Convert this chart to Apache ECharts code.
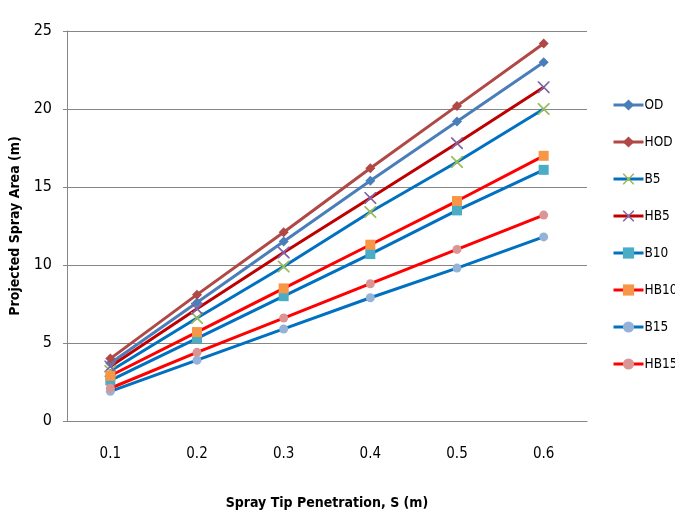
<!DOCTYPE html>
<html><head><meta charset="utf-8">
<script src="https://cdn.jsdelivr.net/npm/echarts@6/dist/echarts.min.js"></script>
<style>html,body{margin:0;padding:0;background:#fff}#c{width:675px;height:515px}</style>
</head><body><div id="c"></div>
<script>
const categories = ['0.1','0.2','0.3','0.4','0.5','0.6'];
const yTicks = [0,5,10,15,20,25];
const OD   = [3.7, 7.6, 11.5, 15.4, 19.2, 23.0];
const HOD  = [4.0, 8.1, 12.1, 16.2, 20.2, 24.2];
const B5   = [3.2, 6.6, 9.9, 13.4, 16.6, 20.0];
const HB5  = [3.5, 7.2, 10.8, 14.3, 17.8, 21.4];
const B10  = [2.6, 5.3, 8.0, 10.7, 13.5, 16.1];
const HB10 = [2.9, 5.7, 8.5, 11.3, 14.1, 17.0];
const B15  = [1.9, 3.9, 5.9, 7.9, 9.8, 11.8];
const HB15 = [2.1, 4.4, 6.6, 8.8, 11.0, 13.2];

const font = '"DejaVu Sans Condensed","Liberation Sans Narrow","Open Sans",sans-serif';
const X = 'path://M0,0L1,0L5,4L9,0L10,0L10,1L6,5L10,9L10,10L9,10L5,6L1,10L0,10L0,9L4,5L0,1Z';
function s(name, data, lineColor, markColor, symbol, size) {
  return {
    name, type: 'line', data, symbol, symbolSize: size,
    lineStyle: {color: lineColor, width: 3},
    itemStyle: {color: markColor, borderWidth: 0},
    color: lineColor,
    emphasis: {disabled: true}
  };
}
const series = [
  s('OD', OD, '#4a7ebb', '#4a7ebb', 'diamond', 10),
  s('HOD', HOD, '#b04845', '#b04845', 'diamond', 10),
  s('B5', B5, '#0070c0', '#9bbb59', X, 12),
  s('HB5', HB5, '#c00000', '#8064a2', X, 12),
  s('B10', B10, '#0070c0', '#4bacc6', 'rect', 10),
  s('HB10', HB10, '#ff0000', '#f79646', 'rect', 10),
  s('B15', B15, '#0070c0', '#95b3d7', 'circle', 9),
  s('HB15', HB15, '#ff0000', '#d99694', 'circle', 9)
];
const chart = echarts.init(document.getElementById('c'), null, {renderer: 'canvas'});
chart.setOption({
  animation: false,
  backgroundColor: '#fff',
  grid: {left: 67, right: 88, top: 31, bottom: 84},
  legend: {
    orient: 'vertical', left: 607, top: 93, itemGap: 23, itemWidth: 30, itemHeight: 14,
    lineStyle: {width: 3},
    textStyle: {fontFamily: font, fontSize: 13.5, color: '#000', padding: [0,0,0,-4]},
    data: series.map(x => x.name)
  },
  xAxis: {
    type: 'category', data: categories, boundaryGap: true,
    name: 'Spray Tip Penetration, S (m)', nameLocation: 'middle', nameGap: 75,
    nameTextStyle: {fontFamily: font, fontSize: 14, fontWeight: 'bold', color: '#000'},
    axisLine: {lineStyle: {color: '#868686', width: 1}},
    axisTick: {show: false},
    axisLabel: {fontFamily: font, fontSize: 15, color: '#000', margin: 26}
  },
  yAxis: {
    type: 'value', min: 0, max: 25, interval: 5,
    name: 'Projected Spray Area (m)', nameLocation: 'middle', nameGap: 40, nameRotate: 90,
    nameTextStyle: {fontFamily: font, fontSize: 14, fontWeight: 'bold', color: '#000'},
    axisLine: {show: true, lineStyle: {color: '#868686', width: 1}},
    axisTick: {show: true, length: 4, lineStyle: {color: '#868686'}},
    splitLine: {lineStyle: {color: '#868686', width: 1}},
    axisLabel: {fontFamily: font, fontSize: 16, color: '#000', margin: 15,
      formatter: v => yTicks.includes(v) ? String(v) : ''}
  },
  series
});
</script></body></html>
